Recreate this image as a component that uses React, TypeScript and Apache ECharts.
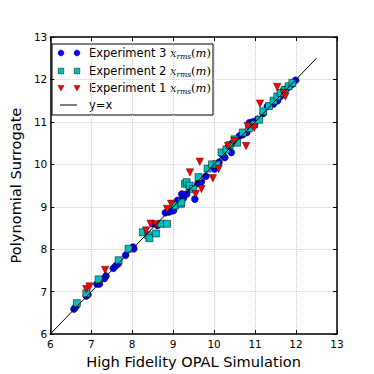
import React, { useEffect, useRef } from "react";
import * as echarts from "echarts";

const exp3X = [6.58, 6.63, 6.88, 6.92, 7.14, 7.2, 7.32, 7.36, 7.54, 7.6, 7.66, 7.84, 8.02, 8.04, 8.5, 8.62, 8.81, 8.9, 8.95, 9.01, 9.11, 9.21, 9.25, 9.33, 9.4, 9.53, 9.6, 9.69, 9.8, 10.01, 10.12, 10.22, 10.26, 10.34, 10.42, 10.45, 10.62, 10.7, 10.8, 10.86, 10.95, 11.06, 11.2, 11.3, 11.45, 11.55, 11.62, 11.7, 11.79, 11.9, 11.99];
const exp3Y = [6.59, 6.65, 6.9, 6.93, 7.18, 7.18, 7.31, 7.37, 7.55, 7.61, 7.66, 7.86, 8.05, 8.01, 8.6, 8.56, 8.86, 8.88, 8.9, 8.91, 9.15, 9.3, 9.2, 9.3, 9.45, 9.18, 9.55, 9.59, 9.72, 9.89, 10.05, 10.2, 10.16, 10.4, 10.28, 10.5, 10.67, 10.7, 10.75, 10.98, 11.0, 11.06, 11.2, 11.37, 11.42, 11.5, 11.6, 11.75, 11.8, 11.88, 11.98];

const exp2X = [6.65, 6.88, 7.18, 7.67, 7.91, 8.26, 8.39, 8.42, 8.58, 8.7, 8.85, 9.05, 9.19, 9.2, 9.29, 9.33, 9.4, 9.49, 9.62, 9.84, 9.95, 10.06, 10.18, 10.3, 10.38, 10.5, 10.56, 10.7, 10.85, 10.98, 11.1, 11.2, 11.34, 11.45, 11.54, 11.62, 11.72, 11.82, 11.91];
const exp2Y = [6.73, 6.96, 7.29, 7.74, 8.01, 8.4, 8.33, 8.26, 8.37, 8.6, 8.6, 9.03, 9.07, 9.1, 9.54, 9.58, 9.5, 9.42, 9.7, 9.9, 10.0, 10.0, 10.28, 10.35, 10.45, 10.59, 10.51, 10.75, 10.85, 10.94, 11.05, 11.25, 11.37, 11.5, 11.6, 11.68, 11.75, 11.84, 11.92];

const exp1X = [6.88, 6.96, 7.34, 8.34, 8.45, 8.58, 8.85, 8.95, 9.41, 9.55, 9.65, 9.69, 9.97, 10.11, 10.34, 10.5, 10.78, 10.82, 10.98, 11.12, 11.54, 11.7, 11.74];
const exp1Y = [7.06, 7.12, 7.51, 8.44, 8.6, 8.58, 8.95, 9.07, 9.81, 9.3, 10.06, 9.42, 9.67, 9.89, 10.43, 10.55, 10.43, 10.9, 10.86, 11.43, 11.82, 11.68, 11.6];

const identityLine = [6, 12.5];

const legendLabels = ["Experiment 3 ", "Experiment 2 ", "Experiment 1 ", "y=x"];

const pairs = (xs: number[], ys: number[]) => xs.map((x, i) => [x, ys[i]]);

const FONT = "DejaVu Sans";

function mathLabel(prefix: string) {
  return {
    type: "text",
    style: {
      text: `{n|${prefix}}{mx|x}{sub|rms}{p|(}{mx|m}{p|)}`,
      rich: {
        n: { fontFamily: FONT, fontSize: 11.5, fill: "#000", lineHeight: 14 },
        mx: { fontFamily: "DejaVu Serif", fontStyle: "italic", fontSize: 11.5, fill: "#000", lineHeight: 14 },
        sub: { fontFamily: "DejaVu Serif", fontStyle: "italic", fontSize: 7.5, fill: "#000", lineHeight: 10, verticalAlign: "bottom" },
        p: { fontFamily: "DejaVu Serif", fontSize: 11.5, fill: "#000", lineHeight: 14 },
      },
      verticalAlign: "middle",
    },
  };
}

export default function App() {
  const ref = useRef<HTMLDivElement>(null);
  useEffect(() => {
    if (!ref.current) return;
    const chart = echarts.init(ref.current, null, { renderer: "svg" });
    const axisCommon = {
      type: "value",
      min: 6,
      max: 13,
      interval: 1,
      axisLine: { show: true, onZero: false, lineStyle: { color: "#000", width: 1.5 } },
      axisTick: { show: true, inside: true, length: 4, lineStyle: { color: "#000", width: 1 } },
    };
    const rowY = [53, 71, 88, 105];
    const mx = [61, 77];
    const legendChildren: any[] = [
      {
        type: "rect",
        shape: { x: 52, y: 44, width: 161, height: 71 },
        style: { fill: "#fff", stroke: "#000", lineWidth: 1 },
      },
    ];
    mx.forEach((x) => {
      legendChildren.push({
        type: "circle",
        shape: { cx: x, cy: rowY[0], r: 3 },
        style: { fill: "#0000ff", stroke: "#000", lineWidth: 0.4 },
      });
      legendChildren.push({
        type: "rect",
        shape: { x: x - 2.75, y: rowY[1] - 2.75, width: 5.5, height: 5.5 },
        style: { fill: "#00bfbf", stroke: "#000", lineWidth: 0.5 },
      });
      legendChildren.push({
        type: "polygon",
        shape: { points: [[x - 3, rowY[2] - 2.6], [x + 3, rowY[2] - 2.6], [x, rowY[2] + 3]] },
        style: { fill: "#ff0000", stroke: "#000", lineWidth: 0.4 },
      });
    });
    legendChildren.push({
      type: "line",
      shape: { x1: 60, y1: rowY[3], x2: 77, y2: rowY[3] },
      style: { stroke: "#000", lineWidth: 1 },
    });
    for (let i = 0; i < 3; i++) {
      const t: any = mathLabel(legendLabels[i]);
      t.x = 89;
      t.y = rowY[i];
      legendChildren.push(t);
    }
    legendChildren.push({
      type: "text",
      x: 89,
      y: rowY[3],
      style: { text: legendLabels[3], fontFamily: FONT, fontSize: 11.5, fill: "#000", verticalAlign: "middle" },
    });

    chart.setOption({
      animation: false,
      backgroundColor: "#fff",
      textStyle: { fontFamily: FONT },
      grid: { left: 47, top: 37, width: 290, height: 299 },
      xAxis: [
        {
          ...axisCommon,
          position: "bottom",
          name: "High Fidelity OPAL Simulation",
          nameLocation: "middle",
          nameGap: 12,
          nameTextStyle: { fontSize: 14.6, color: "#000", fontFamily: FONT, verticalAlign: "top" },
          axisLabel: { color: "#000", fontSize: 10.5, margin: 4, fontFamily: FONT },
          splitLine: { show: true, lineStyle: { color: "#cdcdcd", type: "dotted", width: 1 } },
        },
        {
          ...axisCommon,
          position: "top",
          axisLabel: { show: false },
          splitLine: { show: false },
        },
      ],
      yAxis: [
        {
          ...axisCommon,
          position: "left",
          name: "Polynomial Surrogate",
          nameLocation: "middle",
          nameGap: 17,
          nameRotate: 90,
          nameTextStyle: { fontSize: 14.6, color: "#000", fontFamily: FONT },
          axisLabel: { color: "#000", fontSize: 10.5, margin: 3, fontFamily: FONT },
          splitLine: { show: true, lineStyle: { color: "#cdcdcd", type: "dotted", width: 1 } },
        },
        {
          ...axisCommon,
          position: "right",
          axisLabel: { show: false },
          splitLine: { show: false },
        },
      ],
      series: [
        {
          name: "Experiment 3",
          type: "scatter",
          data: pairs(exp3X, exp3Y),
          symbol: "circle",
          symbolSize: 7,
          itemStyle: { color: "#0000ff", borderColor: "#000", borderWidth: 0.4, opacity: 1 },
          z: 2,
        },
        {
          name: "Experiment 2",
          type: "scatter",
          data: pairs(exp2X, exp2Y),
          symbol: "rect",
          symbolSize: 7,
          itemStyle: { color: "#00bfbf", borderColor: "#000", borderWidth: 0.5, opacity: 1 },
          z: 3,
        },
        {
          name: "Experiment 1",
          type: "scatter",
          data: pairs(exp1X, exp1Y),
          symbol: "triangle",
          symbolRotate: 180,
          symbolSize: 7.5,
          itemStyle: { color: "#ff0000", borderColor: "#000", borderWidth: 0.4, opacity: 1 },
          z: 4,
        },
        {
          name: "y=x",
          type: "line",
          data: pairs(identityLine, identityLine),
          symbol: "none",
          lineStyle: { color: "#000", width: 1 },
          z: 5,
        },
      ],
      graphic: [{ type: "group", z: 100, children: legendChildren }],
    });
    return () => chart.dispose();
  }, []);
  return (
    <div
      ref={ref}
      style={{ position: "fixed", left: 0, top: 0, width: 374, height: 374 }}
    />
  );
}
